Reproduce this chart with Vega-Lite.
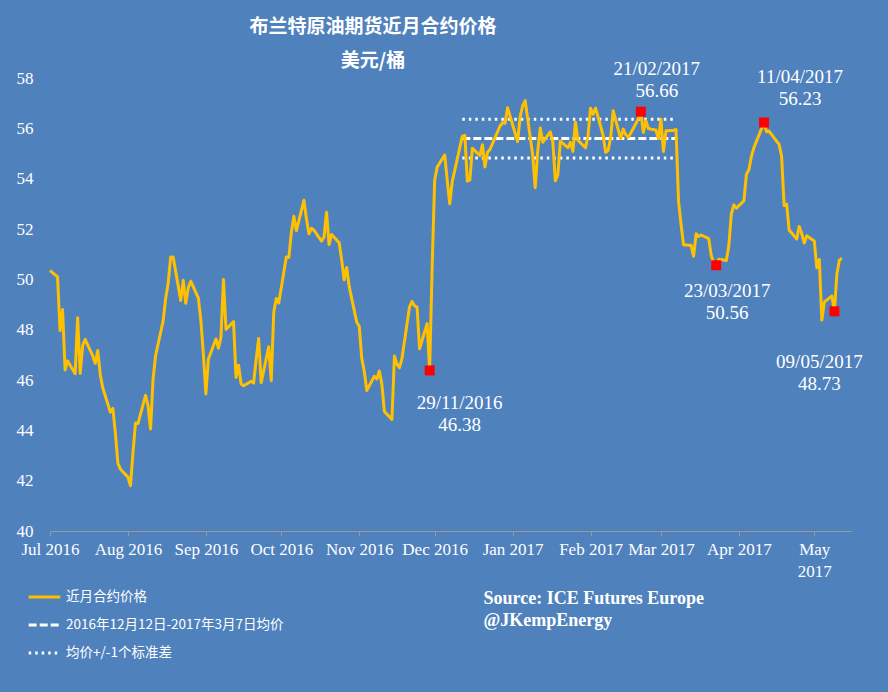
{
  "$schema": "https://vega.github.io/schema/vega-lite/v6.json",
  "width": 802,
  "height": 453,
  "autosize": {"type": "none"},
  "padding": {"left": 50, "top": 78, "right": 36, "bottom": 161},
  "background": "#4F81BD",
  "config": {"view": {"stroke": null}, "font": "Liberation Serif"},
  "title": {
    "text": "布兰特原油期货近月合约价格",
    "subtitle": "美元/桶",
    "anchor": "middle",
    "frame": "group",
    "dx": -78,
    "dy": 9,
    "offset": -2,
    "font": "Noto Sans CJK SC",
    "fontSize": 19,
    "fontWeight": "bold",
    "color": "white",
    "subtitleFont": "Noto Sans CJK SC",
    "subtitleFontSize": 19,
    "subtitleFontWeight": "bold",
    "subtitleColor": "white",
    "subtitlePadding": 15
  },
  "datasets": {
    "price": [
      {"date": "2016-07-01", "price": 50.35}, {"date": "2016-07-04", "price": 50.10}, {"date": "2016-07-05", "price": 47.96}, {"date": "2016-07-06", "price": 48.80}, {"date": "2016-07-07", "price": 46.40}, {"date": "2016-07-08", "price": 46.76},
      {"date": "2016-07-11", "price": 46.25}, {"date": "2016-07-12", "price": 48.47}, {"date": "2016-07-13", "price": 46.26}, {"date": "2016-07-14", "price": 47.37}, {"date": "2016-07-15", "price": 47.61},
      {"date": "2016-07-18", "price": 46.96}, {"date": "2016-07-19", "price": 46.66}, {"date": "2016-07-20", "price": 47.17}, {"date": "2016-07-21", "price": 46.20}, {"date": "2016-07-22", "price": 45.69},
      {"date": "2016-07-25", "price": 44.72}, {"date": "2016-07-26", "price": 44.87}, {"date": "2016-07-27", "price": 43.90}, {"date": "2016-07-28", "price": 42.70}, {"date": "2016-07-29", "price": 42.46},
      {"date": "2016-08-01", "price": 42.14}, {"date": "2016-08-02", "price": 41.80}, {"date": "2016-08-03", "price": 43.10}, {"date": "2016-08-04", "price": 44.29}, {"date": "2016-08-05", "price": 44.27},
      {"date": "2016-08-08", "price": 45.39}, {"date": "2016-08-09", "price": 44.98}, {"date": "2016-08-10", "price": 44.05}, {"date": "2016-08-11", "price": 46.04}, {"date": "2016-08-12", "price": 46.97},
      {"date": "2016-08-15", "price": 48.35}, {"date": "2016-08-16", "price": 49.23}, {"date": "2016-08-17", "price": 49.85}, {"date": "2016-08-18", "price": 50.89}, {"date": "2016-08-19", "price": 50.88},
      {"date": "2016-08-22", "price": 49.16}, {"date": "2016-08-23", "price": 49.96}, {"date": "2016-08-24", "price": 49.05}, {"date": "2016-08-25", "price": 49.67}, {"date": "2016-08-26", "price": 49.92},
      {"date": "2016-08-29", "price": 49.26}, {"date": "2016-08-30", "price": 48.37}, {"date": "2016-08-31", "price": 47.04}, {"date": "2016-09-01", "price": 45.45}, {"date": "2016-09-02", "price": 46.83},
      {"date": "2016-09-05", "price": 47.63}, {"date": "2016-09-06", "price": 47.26}, {"date": "2016-09-07", "price": 47.70}, {"date": "2016-09-08", "price": 49.99}, {"date": "2016-09-09", "price": 48.01},
      {"date": "2016-09-12", "price": 48.32}, {"date": "2016-09-13", "price": 46.10}, {"date": "2016-09-14", "price": 46.59}, {"date": "2016-09-15", "price": 45.85}, {"date": "2016-09-16", "price": 45.77},
      {"date": "2016-09-19", "price": 45.95}, {"date": "2016-09-20", "price": 45.88}, {"date": "2016-09-21", "price": 46.83}, {"date": "2016-09-22", "price": 47.65}, {"date": "2016-09-23", "price": 45.89},
      {"date": "2016-09-26", "price": 47.32}, {"date": "2016-09-27", "price": 45.97}, {"date": "2016-09-28", "price": 48.69}, {"date": "2016-09-29", "price": 49.24}, {"date": "2016-09-30", "price": 49.06},
      {"date": "2016-10-03", "price": 50.89}, {"date": "2016-10-04", "price": 50.87}, {"date": "2016-10-05", "price": 51.86}, {"date": "2016-10-06", "price": 52.51}, {"date": "2016-10-07", "price": 51.93},
      {"date": "2016-10-10", "price": 53.14}, {"date": "2016-10-11", "price": 52.41}, {"date": "2016-10-12", "price": 51.81}, {"date": "2016-10-13", "price": 52.03}, {"date": "2016-10-14", "price": 51.95},
      {"date": "2016-10-17", "price": 51.52}, {"date": "2016-10-18", "price": 51.68}, {"date": "2016-10-19", "price": 52.67}, {"date": "2016-10-20", "price": 51.38}, {"date": "2016-10-21", "price": 51.78},
      {"date": "2016-10-24", "price": 51.46}, {"date": "2016-10-25", "price": 50.79}, {"date": "2016-10-26", "price": 49.98}, {"date": "2016-10-27", "price": 50.47}, {"date": "2016-10-28", "price": 49.71},
      {"date": "2016-10-31", "price": 48.30}, {"date": "2016-11-01", "price": 48.14}, {"date": "2016-11-02", "price": 46.86}, {"date": "2016-11-03", "price": 46.35}, {"date": "2016-11-04", "price": 45.58},
      {"date": "2016-11-07", "price": 46.15}, {"date": "2016-11-08", "price": 46.04}, {"date": "2016-11-09", "price": 46.36}, {"date": "2016-11-10", "price": 45.84}, {"date": "2016-11-11", "price": 44.75},
      {"date": "2016-11-14", "price": 44.43}, {"date": "2016-11-15", "price": 46.95}, {"date": "2016-11-16", "price": 46.63}, {"date": "2016-11-17", "price": 46.49}, {"date": "2016-11-18", "price": 46.86},
      {"date": "2016-11-21", "price": 48.90}, {"date": "2016-11-22", "price": 49.12}, {"date": "2016-11-23", "price": 48.95}, {"date": "2016-11-24", "price": 48.90}, {"date": "2016-11-25", "price": 47.24},
      {"date": "2016-11-28", "price": 48.24}, {"date": "2016-11-29", "price": 46.38}, {"date": "2016-11-30", "price": 50.47}, {"date": "2016-12-01", "price": 53.94}, {"date": "2016-12-02", "price": 54.46},
      {"date": "2016-12-05", "price": 54.94}, {"date": "2016-12-06", "price": 53.93}, {"date": "2016-12-07", "price": 53.00}, {"date": "2016-12-08", "price": 53.89}, {"date": "2016-12-09", "price": 54.33},
      {"date": "2016-12-12", "price": 55.69}, {"date": "2016-12-13", "price": 55.72}, {"date": "2016-12-14", "price": 53.90}, {"date": "2016-12-15", "price": 53.95}, {"date": "2016-12-16", "price": 55.21},
      {"date": "2016-12-19", "price": 54.92}, {"date": "2016-12-20", "price": 55.35}, {"date": "2016-12-21", "price": 54.46}, {"date": "2016-12-22", "price": 55.05}, {"date": "2016-12-23", "price": 55.16},
      {"date": "2016-12-27", "price": 56.09}, {"date": "2016-12-28", "price": 56.22}, {"date": "2016-12-29", "price": 56.20}, {"date": "2016-12-30", "price": 56.82},
      {"date": "2017-01-03", "price": 55.47}, {"date": "2017-01-04", "price": 56.46}, {"date": "2017-01-05", "price": 56.89}, {"date": "2017-01-06", "price": 57.10},
      {"date": "2017-01-09", "price": 54.94}, {"date": "2017-01-10", "price": 53.64}, {"date": "2017-01-11", "price": 55.10}, {"date": "2017-01-12", "price": 56.01}, {"date": "2017-01-13", "price": 55.45},
      {"date": "2017-01-16", "price": 55.86}, {"date": "2017-01-17", "price": 55.47}, {"date": "2017-01-18", "price": 53.92}, {"date": "2017-01-19", "price": 54.16}, {"date": "2017-01-20", "price": 55.49},
      {"date": "2017-01-23", "price": 55.23}, {"date": "2017-01-24", "price": 55.44}, {"date": "2017-01-25", "price": 55.08}, {"date": "2017-01-26", "price": 56.24}, {"date": "2017-01-27", "price": 55.52},
      {"date": "2017-01-30", "price": 55.23}, {"date": "2017-01-31", "price": 55.70}, {"date": "2017-02-01", "price": 56.80}, {"date": "2017-02-02", "price": 56.56}, {"date": "2017-02-03", "price": 56.81},
      {"date": "2017-02-06", "price": 55.72}, {"date": "2017-02-07", "price": 55.05}, {"date": "2017-02-08", "price": 55.12}, {"date": "2017-02-09", "price": 55.63}, {"date": "2017-02-10", "price": 56.70},
      {"date": "2017-02-13", "price": 55.59}, {"date": "2017-02-14", "price": 55.97}, {"date": "2017-02-15", "price": 55.75}, {"date": "2017-02-16", "price": 55.65}, {"date": "2017-02-17", "price": 55.81},
      {"date": "2017-02-20", "price": 56.37}, {"date": "2017-02-21", "price": 56.66}, {"date": "2017-02-22", "price": 55.84}, {"date": "2017-02-23", "price": 56.30}, {"date": "2017-02-24", "price": 55.99},
      {"date": "2017-02-27", "price": 55.93}, {"date": "2017-02-28", "price": 55.59}, {"date": "2017-03-01", "price": 56.36}, {"date": "2017-03-02", "price": 55.08}, {"date": "2017-03-03", "price": 55.90},
      {"date": "2017-03-06", "price": 55.92}, {"date": "2017-03-07", "price": 55.95}, {"date": "2017-03-08", "price": 53.11}, {"date": "2017-03-09", "price": 52.19}, {"date": "2017-03-10", "price": 51.37},
      {"date": "2017-03-13", "price": 51.35}, {"date": "2017-03-14", "price": 50.92}, {"date": "2017-03-15", "price": 51.81}, {"date": "2017-03-16", "price": 51.70}, {"date": "2017-03-17", "price": 51.76},
      {"date": "2017-03-20", "price": 51.62}, {"date": "2017-03-21", "price": 50.96}, {"date": "2017-03-22", "price": 50.64}, {"date": "2017-03-23", "price": 50.56}, {"date": "2017-03-24", "price": 50.80},
      {"date": "2017-03-27", "price": 50.75}, {"date": "2017-03-28", "price": 51.33}, {"date": "2017-03-29", "price": 52.60}, {"date": "2017-03-30", "price": 52.96}, {"date": "2017-03-31", "price": 52.83},
      {"date": "2017-04-03", "price": 53.12}, {"date": "2017-04-04", "price": 54.17}, {"date": "2017-04-05", "price": 54.36}, {"date": "2017-04-06", "price": 54.89}, {"date": "2017-04-07", "price": 55.24},
      {"date": "2017-04-10", "price": 55.98}, {"date": "2017-04-11", "price": 56.23}, {"date": "2017-04-12", "price": 55.86}, {"date": "2017-04-13", "price": 55.89}, {"date": "2017-04-17", "price": 55.36},
      {"date": "2017-04-18", "price": 54.89}, {"date": "2017-04-19", "price": 52.93}, {"date": "2017-04-20", "price": 52.99}, {"date": "2017-04-21", "price": 51.96},
      {"date": "2017-04-24", "price": 51.60}, {"date": "2017-04-25", "price": 52.10}, {"date": "2017-04-26", "price": 51.82}, {"date": "2017-04-27", "price": 51.44}, {"date": "2017-04-28", "price": 51.73},
      {"date": "2017-05-01", "price": 51.52}, {"date": "2017-05-02", "price": 50.46}, {"date": "2017-05-03", "price": 50.79}, {"date": "2017-05-04", "price": 48.38}, {"date": "2017-05-05", "price": 49.10},
      {"date": "2017-05-08", "price": 49.34}, {"date": "2017-05-09", "price": 48.73}, {"date": "2017-05-10", "price": 50.22}, {"date": "2017-05-11", "price": 50.77}, {"date": "2017-05-12", "price": 50.84}
    ],
    "stats": [
      {"series": "2016年12月12日-2017年3月7日均价", "line": "mean", "date": "2016-12-12", "price": 55.60},
      {"series": "2016年12月12日-2017年3月7日均价", "line": "mean", "date": "2017-03-07", "price": 55.60},
      {"series": "均价+/-1个标准差", "line": "upper", "date": "2016-12-12", "price": 56.36},
      {"series": "均价+/-1个标准差", "line": "upper", "date": "2017-03-07", "price": 56.36},
      {"series": "均价+/-1个标准差", "line": "lower", "date": "2016-12-12", "price": 54.82},
      {"series": "均价+/-1个标准差", "line": "lower", "date": "2017-03-07", "price": 54.82}
    ],
    "points": [
      {"date": "2016-11-29", "price": 46.38, "label": "29/11/2016"},
      {"date": "2017-02-21", "price": 56.66, "label": "21/02/2017"},
      {"date": "2017-03-23", "price": 50.56, "label": "23/03/2017"},
      {"date": "2017-04-11", "price": 56.23, "label": "11/04/2017"},
      {"date": "2017-05-09", "price": 48.73, "label": "09/05/2017"}
    ]
  },
  "encoding": {
    "x": {
      "field": "date",
      "type": "temporal",
      "scale": {
        "type": "utc",
        "domain": [{"year": 2016, "month": 7, "date": 1, "utc": true}, {"year": 2017, "month": 5, "date": 16, "utc": true}]
      },
      "axis": {
        "values": [
          {"year": 2016, "month": 7, "date": 1, "utc": true}, {"year": 2016, "month": 8, "date": 1, "utc": true},
          {"year": 2016, "month": 9, "date": 1, "utc": true}, {"year": 2016, "month": 10, "date": 1, "utc": true},
          {"year": 2016, "month": 11, "date": 1, "utc": true}, {"year": 2016, "month": 12, "date": 1, "utc": true},
          {"year": 2017, "month": 1, "date": 1, "utc": true}, {"year": 2017, "month": 2, "date": 1, "utc": true},
          {"year": 2017, "month": 3, "date": 1, "utc": true}, {"year": 2017, "month": 4, "date": 1, "utc": true},
          {"year": 2017, "month": 5, "date": 1, "utc": true}
        ],
        "labelExpr": "utcmonth(datum.value) == 4 ? ['May', '2017'] : utcFormat(datum.value, '%b %Y')",
        "labelColor": "white",
        "labelFont": "Liberation Serif",
        "labelFontSize": 17,
        "labelFlush": false,
        "labelOverlap": false,
        "labelBound": false,
        "labelPadding": 5,
        "labelBaseline": "top",
        "labelLineHeight": 22,
        "tickColor": "#9a9a9a",
        "tickSize": 5,
        "domainColor": "#9a9a9a",
        "grid": false,
        "title": ["Source: ICE Futures Europe", "@JKempEnergy"],
        "titleX": 433,
        "titleY": 72,
        "titleAlign": "left",
        "titleBaseline": "alphabetic",
        "titleColor": "white",
        "titleFont": "Liberation Serif",
        "titleFontSize": 18,
        "titleFontWeight": "bold",
        "titleLineHeight": 22
      }
    },
    "y": {
      "field": "price",
      "type": "quantitative",
      "scale": {"domain": [40, 58], "nice": false, "zero": false},
      "axis": {
        "values": [40, 42, 44, 46, 48, 50, 52, 54, 56, 58],
        "domain": false,
        "ticks": false,
        "grid": false,
        "labelColor": "white",
        "labelFont": "Liberation Serif",
        "labelFontSize": 17,
        "labelPadding": 17,
        "labelFlush": false,
        "title": null
      }
    }
  },
  "layer": [
    {
      "data": {"name": "stats"},
      "mark": {"type": "line", "strokeWidth": 3},
      "encoding": {
        "detail": {"field": "line"},
        "color": {
          "field": "series",
          "type": "nominal",
          "scale": {"domain": ["近月合约价格", "2016年12月12日-2017年3月7日均价", "均价+/-1个标准差"], "range": ["#FFC000", "#FFFFFF", "#FFFFFF"]},
          "legend": {"orient": "none", "legendX": -23, "legendY": 505, "title": null, "symbolType": "stroke", "symbolSize": 1000, "symbolStrokeWidth": 3, "labelColor": "white", "labelFont": "Noto Sans CJK SC", "labelFontSize": 13.5, "labelLimit": 0, "labelOffset": 4, "clipHeight": 28, "rowPadding": 0, "padding": 0, "direction": "vertical"}
        },
        "strokeDash": {
          "field": "series",
          "type": "nominal",
          "scale": {"domain": ["近月合约价格", "2016年12月12日-2017年3月7日均价", "均价+/-1个标准差"], "range": [[1, 0], [8, 3], [2.5, 4]]},
          "legend": {"orient": "none", "legendX": -23, "legendY": 505, "title": null, "symbolType": "stroke", "symbolSize": 1000, "symbolStrokeWidth": 3, "labelColor": "white", "labelFont": "Noto Sans CJK SC", "labelFontSize": 13.5, "labelLimit": 0, "labelOffset": 4, "clipHeight": 28, "rowPadding": 0, "padding": 0, "direction": "vertical"}
        }
      }
    },
    {
      "data": {"name": "price"},
      "transform": [{"calculate": "'近月合约价格'", "as": "series"}],
      "mark": {"type": "line", "strokeWidth": 3, "strokeJoin": "round"},
      "encoding": {
        "color": {"field": "series", "type": "nominal"},
        "strokeDash": {"field": "series", "type": "nominal"}
      }
    },
    {
      "data": {"name": "points"},
      "mark": {"type": "square", "size": 100, "color": "#FF0000", "filled": true, "opacity": 1}
    },
    {
      "data": {"name": "points"},
      "transform": [{"filter": "datum.label == '29/11/2016'"}, {"calculate": "[datum.label, format(datum.price, '.2f')]", "as": "txt"}],
      "mark": {"type": "text", "font": "Liberation Serif", "fontSize": 19, "color": "white", "lineHeight": 22, "align": "center", "baseline": "middle", "dx": 30, "dy": 33},
      "encoding": {"text": {"field": "txt"}}
    },
    {
      "data": {"name": "points"},
      "transform": [{"filter": "datum.label == '21/02/2017'"}, {"calculate": "[datum.label, format(datum.price, '.2f')]", "as": "txt"}],
      "mark": {"type": "text", "font": "Liberation Serif", "fontSize": 19, "color": "white", "lineHeight": 22, "align": "center", "baseline": "middle", "dx": 16, "dy": -43},
      "encoding": {"text": {"field": "txt"}}
    },
    {
      "data": {"name": "points"},
      "transform": [{"filter": "datum.label == '23/03/2017'"}, {"calculate": "[datum.label, format(datum.price, '.2f')]", "as": "txt"}],
      "mark": {"type": "text", "font": "Liberation Serif", "fontSize": 19, "color": "white", "lineHeight": 22, "align": "center", "baseline": "middle", "dx": 11, "dy": 26},
      "encoding": {"text": {"field": "txt"}}
    },
    {
      "data": {"name": "points"},
      "transform": [{"filter": "datum.label == '11/04/2017'"}, {"calculate": "[datum.label, format(datum.price, '.2f')]", "as": "txt"}],
      "mark": {"type": "text", "font": "Liberation Serif", "fontSize": 19, "color": "white", "lineHeight": 22, "align": "center", "baseline": "middle", "dx": 36, "dy": -46},
      "encoding": {"text": {"field": "txt"}}
    },
    {
      "data": {"name": "points"},
      "transform": [{"filter": "datum.label == '09/05/2017'"}, {"calculate": "[datum.label, format(datum.price, '.2f')]", "as": "txt"}],
      "mark": {"type": "text", "font": "Liberation Serif", "fontSize": 19, "color": "white", "lineHeight": 22, "align": "center", "baseline": "middle", "dx": -15, "dy": 51},
      "encoding": {"text": {"field": "txt"}}
    }
  ]
}
